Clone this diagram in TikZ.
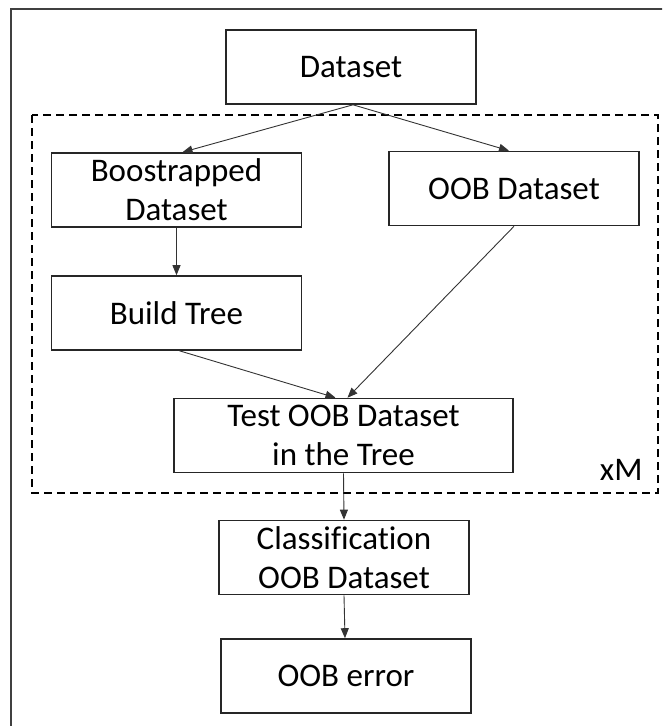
\documentclass[tikz,border=0pt]{standalone}
\usepackage{fontspec}
\setmainfont[Ligatures=NoCommon]{Carlito}
\usetikzlibrary{
    arrows.meta,
    positioning
}

\begin{document}
\begin{tikzpicture}[x=1pt, y=-1pt,
        box/.style={draw=black!85, line width=1.6pt, minimum width=250, minimum height=74,
            inner sep=0pt, align=center, font=\fontsize{33}{39}\selectfont},
        flow/.style={-{Triangle[length=10pt, width=8pt]}, draw=black!80, line width=0.9pt}]
    \clip (0, 0) rectangle (662, 726);
    % outer frame and repeated part
    \draw[line width=1.5pt, black!75] (11, 9) rectangle (690, 745);
    \draw[line width=1.5pt, dash pattern=on 8pt off 5pt] (32, 115) rectangle (658, 493);
    \node[anchor=base east, font=\fontsize{33}{39}\selectfont] (rep) at (646, 480) {xM};
    % boxes
    \node[box] (data) at (351, 67) {Dataset};
    \node[box] (boot) at (176.5, 190) {Boostrapped\\Dataset};
    \node[box] (oob) at (514, 188.5) {OOB Dataset};
    \node[box] (build) at (176.5, 313) {Build Tree};
    \node[box, minimum width=339] (test) at (343.5, 435.5) {Test OOB Dataset\\in the Tree};
    \node[box] (class) at (344, 557.5) {Classification\\OOB Dataset};
    \node[box] (err) at (346, 676) {OOB error};
    % connectors
    \draw[flow] ([xshift=2pt]data.south) -- ([xshift=6pt]boot.north);
    \draw[flow] ([xshift=2pt]data.south) -- ([xshift=-5pt]oob.north);
    \draw[flow] (boot.south) -- (build.north);
    \draw[flow] ([xshift=3pt]build.south) -- ([xshift=-8pt]test.north);
    \draw[flow] (oob.south) -- ([xshift=4pt]test.north);
    \draw[flow] (test.south) -- (class.north);
    \draw[flow] (class.south) -- ([xshift=-1pt]err.north);
\end{tikzpicture}
\end{document}
